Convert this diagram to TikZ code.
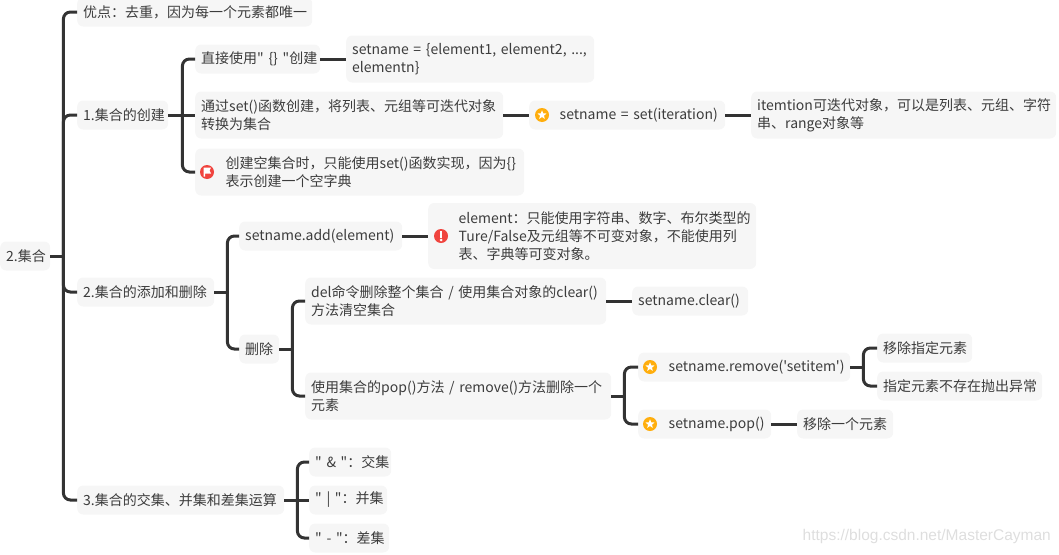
\documentclass[tikz,border=0pt]{standalone}
\usepackage{fontspec}
\usepackage{xcolor}
\setmainfont{Noto Sans CJK SC}[Ligatures=TeXOff]
\newfontfamily\markfont{Liberation Sans}
\definecolor{boxgray}{HTML}{F6F6F6}
\definecolor{inkgray}{HTML}{3C3C3C}
\definecolor{linegray}{HTML}{333333}
\definecolor{staryellow}{HTML}{FFAE0D}
\definecolor{flagred}{HTML}{F0443E}
\usetikzlibrary{shapes.geometric}

\begin{document}
\begin{tikzpicture}[
		x=1pt, y=-1pt,
		font=\fontsize{14}{18}\selectfont,
		box/.style={anchor=west, fill=boxgray, rounded corners=6pt, text=inkgray, align=left, inner xsep=6pt, inner ysep=0pt, minimum height=29pt},
		boxtwo/.style={box, minimum height=47pt},
		boxthree/.style={box, minimum height=66pt},
		wide/.style={minimum width=#1pt, text width=#1pt-12pt},
		indent/.style={execute at begin node={\leftskip=24.5pt}},
		link/.style={draw=linegray, line width=3pt},
		branch/.style={link, rounded corners=7pt},
		badge/.style={circle, inner sep=0pt, minimum size=14pt},
		starbadge/.style={badge, fill=staryellow},
		redbadge/.style={badge, fill=flagred},
		starmark/.style={star, star points=5, star point ratio=2.3, fill=white, inner sep=0pt, minimum size=9.5pt}
		]
		
		\useasboundingbox (0,0) rectangle (1059,554);
		
		% Root
		\node[box, wide=50] (root) at (0,256) {2.集合};
		
		% First level
		\node[box, wide=235] (adv) at (77,12) {优点：去重，因为每一个元素都唯一};
		\node[box, wide=91] (create) at (77,115) {1.集合的创建};
		\node[box, wide=137] (addrm) at (77,292) {2.集合的添加和删除};
		\node[box, wide=207] (ops) at (77,500) {3.集合的交集、并集和差集运算};
		
		% Creating a set
		\node[box, wide=125] (direct) at (195,59) {直接使用"~\{\}~"创建};
		\node[boxtwo, wide=248] (literal) at (346,59) {setname = \{element1, element2, ...,\\elementn\}};
		\node[boxtwo, wide=308] (byset) at (195,115) {通过set()函数创建，将列表、元组等可迭代对象\\转换为集合};
		\node[box, wide=196, indent] (setcall) at (529,115) {setname = set(iteration)};
		\node[boxtwo, wide=305] (iternote) at (751,115) {itemtion可迭代对象，可以是列表、元组、字符\\串、range对象等};
		\node[boxtwo, wide=329, indent] (emptynote) at (195,172) {创建空集合时，只能使用set()函数实现，因为\{\}\\表示创建一个空字典};
		
		% Adding and removing
		\node[box, wide=163] (addcall) at (239,236) {setname.add(element)};
		\node[boxthree, wide=328, indent] (addnote) at (428,236) {element：只能使用字符串、数字、布尔类型的\\Ture/False及元组等不可变对象，不能使用列\\表、字典等可变对象。};
		\node[box, wide=40] (del) at (239,349) {删除};
		\node[boxtwo, wide=301] (delall) at (305,301) {del命令删除整个集合 / 使用集合对象的clear()\\方法清空集合};
		\node[box, wide=116] (clearcall) at (632,301) {setname.clear()};
		\node[boxtwo, wide=306] (delone) at (305,396) {使用集合的pop()方法 / remove()方法删除一个\\元素};
		\node[box, wide=212, indent] (removecall) at (638,367) {setname.remove('setitem')};
		\node[box, wide=95] (removea) at (877,348) {移除指定元素};
		\node[box, wide=165] (removeb) at (877,386) {指定元素不存在抛出异常};
		\node[box, wide=133, indent] (popcall) at (638,424) {setname.pop()};
		\node[box, wide=96] (popnote) at (797,424) {移除一个元素};
		
		% Set operations
		\node[box, wide=82] (opand) at (309,462) {"~\&~"：交集};
		\node[box, wide=78] (opor) at (309,500) {"~|~"：并集};
		\node[box, wide=80] (opdiff) at (309,538) {\mbox{"~-~"}：差集};
		
		% Stubs from each parent to its trunk
		\draw[link] (root.east) -- ++(13,0);
		\draw[link] (create.east) -- (byset.west);
		\draw[link] (addrm.east) -- ++(13,0);
		\draw[link] (del.east) -- ++(13,0);
		\draw[link] (delone.east) -- ++(13,0);
		\draw[link] (removecall.east) -- ++(13,0);
		\draw[link] (ops.east) -- (opor.west);
		
		% Elbows from the trunks to the children
		\draw[branch] (root.east) ++(13,0) |- (adv.west);
		\draw[branch] (root.east) ++(13,0) |- (create.west);
		\draw[branch] (root.east) ++(13,0) |- (addrm.west);
		\draw[branch] (root.east) ++(13,0) |- (ops.west);
		\draw[branch] (create.east) ++(14,0) |- (direct.west);
		\draw[branch] (create.east) ++(14,0) |- (emptynote.west);
		\draw[branch] (addrm.east) ++(13,0) |- (addcall.west);
		\draw[branch] (addrm.east) ++(13,0) |- (del.west);
		\draw[branch] (del.east) ++(13,0) |- (delall.west);
		\draw[branch] (del.east) ++(13,0) |- (delone.west);
		\draw[branch] (delone.east) ++(13,0) |- (removecall.west);
		\draw[branch] (delone.east) ++(13,0) |- (popcall.west);
		\draw[branch] (removecall.east) ++(13,0) |- (removea.west);
		\draw[branch] (removecall.east) ++(13,0) |- (removeb.west);
		\draw[branch] (ops.east) ++(13,0) |- (opand.west);
		\draw[branch] (ops.east) ++(13,0) |- (opdiff.west);
		
		% Straight links
		\draw[link] (direct.east) -- (literal.west);
		\draw[link] (byset.east) -- (setcall.west);
		\draw[link] (setcall.east) -- (iternote.west);
		\draw[link] (addcall.east) -- (addnote.west);
		\draw[link] (delall.east) -- (clearcall.west);
		\draw[link] (popcall.east) -- (popnote.west);
		
		% Star badges
		\node[starbadge] (starset) at (542,115) {};
		\node[starmark] at (starset) {};
		\node[starbadge] (starremove) at (650,367) {};
		\node[starmark] at (starremove) {};
		\node[starbadge] (starpop) at (650,424) {};
		\node[starmark] at (starpop) {};
		
		% Flag badge
		\node[redbadge] (flag) at (207,172) {};
		\fill[white] (203.5,167.5) -- (211,167.5) -- (209.5,170.5) -- (211,173.5) -- (205,173.5) -- (205,176.5) -- (203.5,176.5) -- cycle;
		
		% Warning badge
		\node[redbadge] (warn) at (441,236) {};
		\fill[white] (439.8,231) rectangle (442.4,237.5);
		\fill[white] (441.1,240) circle (1.4);
		
		% Watermark
		\node[anchor=east, inner sep=0pt, text=black!13, font=\markfont\fontsize{15.5}{18}\selectfont] (mark) at (1051,536) {https://blog.csdn.net/MasterCayman};
		
	\end{tikzpicture}
\end{document}
